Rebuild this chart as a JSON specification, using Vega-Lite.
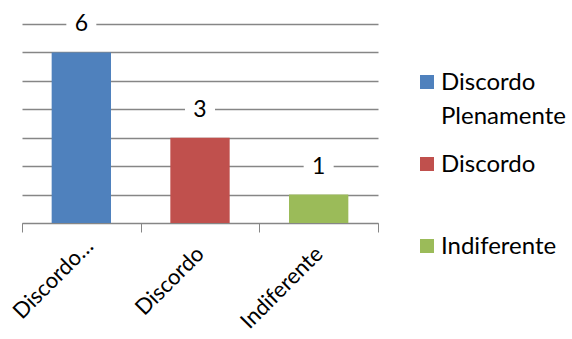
{
  "$schema": "https://vega.github.io/schema/vega-lite/v6.json",
  "width": 356,
  "height": 199,
  "autosize": {"type": "none"},
  "padding": {"left": 22, "top": 24, "right": 194, "bottom": 116},
  "background": "white",
  "config": {
    "view": {"stroke": null},
    "font": "Lato"
  },
  "data": {
    "values": [
      {"categoria": "Discordo Plenamente", "respostas": 6},
      {"categoria": "Discordo", "respostas": 3},
      {"categoria": "Indiferente", "respostas": 1}
    ]
  },
  "encoding": {
    "x": {
      "field": "categoria",
      "type": "nominal",
      "sort": null,
      "scale": {"paddingInner": 0, "paddingOuter": 0},
      "axis": {
        "title": null,
        "labelAngle": -45,
        "labelFontSize": 22,
        "labelColor": "black",
        "labelExpr": "datum.label == 'Discordo Plenamente' ? 'Discordo…' : datum.label",
        "labelBaseline": "middle",
        "labelAlign": "right",
        "labelOffset": {"condition": {"test": "datum.value == 'Discordo Plenamente'", "value": 8}, "value": 0},
        "labelPadding": {"condition": {"test": "datum.value == 'Discordo Plenamente'", "value": 10}, "value": 18},
        "tickBand": "extent",
        "tickSize": 9,
        "tickColor": "#868686",
        "domainColor": "#868686",
        "grid": false
      }
    },
    "y": {
      "field": "respostas",
      "type": "quantitative",
      "scale": {"domain": [0, 7], "nice": false},
      "axis": {
        "title": null,
        "labels": false,
        "ticks": false,
        "domain": false,
        "values": [0, 1, 2, 3, 4, 5, 6, 7],
        "gridColor": "#868686",
        "gridWidth": 1.3
      }
    }
  },
  "layer": [
    {
      "mark": {"type": "bar", "width": {"band": 0.5}},
      "encoding": {
        "color": {
          "field": "categoria",
          "type": "nominal",
          "sort": null,
          "scale": {"range": ["#4F81BD", "#C0504D", "#9BBB59"]},
          "legend": {
            "title": null,
            "orient": "none",
            "legendX": 393,
            "legendY": 46,
            "symbolType": "square",
            "symbolSize": 196,
            "symbolStrokeWidth": 0,
            "labelFontSize": 24,
            "labelColor": "black",
            "labelBaseline": "alphabetic",
            "labelOffset": 2,
            "rowPadding": 23,
            "labelExpr": "datum.label == 'Discordo Plenamente' ? ['Discordo', 'Plenamente'] : [datum.label, '']",
            "labelLimit": 200,
            "encode": {
              "labels": {"update": {"lineHeight": {"value": 34}, "dy": {"value": 8}}}
            }
          }
        }
      }
    },
    {
      "mark": {"type": "point", "shape": "square", "filled": true, "color": "white", "opacity": 1, "size": 900, "yOffset": -28},
      "encoding": {}
    },
    {
      "mark": {"type": "text", "fontSize": 23, "color": "black", "dy": -28, "baseline": "middle"},
      "encoding": {"text": {"field": "respostas", "type": "quantitative"}}
    }
  ]
}
